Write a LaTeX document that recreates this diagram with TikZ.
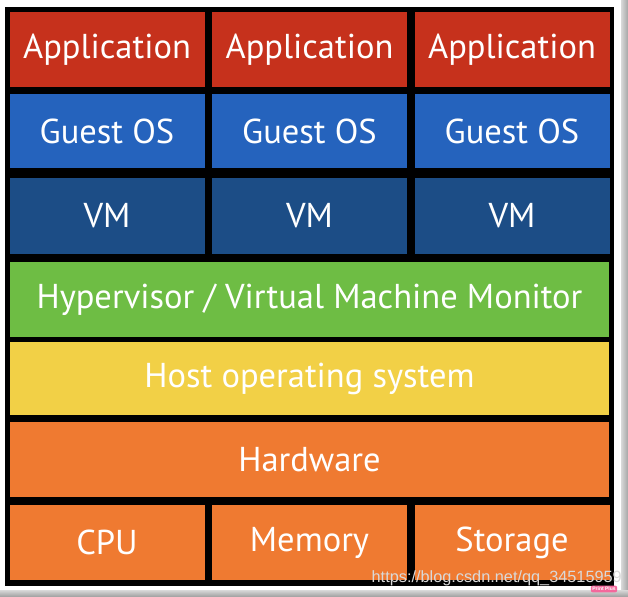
\documentclass[tikz,border=0pt]{standalone}
\usepackage{fontspec}
\setmainfont{PT Sans}
\newfontfamily\wmfont{Liberation Sans}
\begin{document}
\begin{tikzpicture}[x=1pt,y=1pt,
  blk/.style={draw=none,inner sep=0pt,anchor=center,text=white,font=\fontsize{34.5}{34.5}\selectfont},
  colw/.style={minimum width=195pt},
  fullw/.style={minimum width=599pt},
  rowh/.style={minimum height=#1pt}]
\definecolor{appred}{HTML}{C6311C}
\definecolor{osblue}{HTML}{2563BD}
\definecolor{vmblue}{HTML}{1C4D86}
\definecolor{hvgreen}{HTML}{6EBD44}
\definecolor{hostyellow}{HTML}{F2D046}
\definecolor{hworange}{HTML}{EF7A31}
\useasboundingbox (0,0) rectangle (628,596);
\fill[white] (0,0) rectangle (628,596);
% screenshot shadow
\shade[left color=gray!30,right color=gray!70] (621,0) rectangle (628,596);
\shade[top color=gray!30,bottom color=gray!70] (0,0) rectangle (628,6);
% black frame
\fill[black] (5,10) rectangle (614,589);
% row 1
\node[blk,colw,rowh=75,fill=appred] (app1) at (107,546.5) {Application};
\node[blk,colw,rowh=75,fill=appred] (app2) at (309.5,546.5) {Application};
\node[blk,colw,rowh=75,fill=appred] (app3) at (512,546.5) {Application};
% row 2
\node[blk,colw,rowh=74,fill=osblue] (os1) at (107,465) {Guest OS};
\node[blk,colw,rowh=74,fill=osblue] (os2) at (309.5,465) {Guest OS};
\node[blk,colw,rowh=74,fill=osblue] (os3) at (512,465) {Guest OS};
% row 3
\node[blk,colw,rowh=76,fill=vmblue] (vm1) at (107,380) {VM};
\node[blk,colw,rowh=76,fill=vmblue] (vm2) at (309.5,380) {VM};
\node[blk,colw,rowh=76,fill=vmblue] (vm3) at (512,380) {VM};
% full rows
\node[blk,fullw,rowh=75,fill=hvgreen] (hyp) at (309.5,296.5) {Hypervisor / Virtual Machine Monitor};
\node[blk,fullw,rowh=73,fill=hostyellow] (host) at (309.5,217.5) {Host operating system};
\node[blk,fullw,rowh=75,fill=hworange] (hw) at (309.5,136.5) {Hardware};
% bottom row
\node[blk,colw,rowh=75,fill=hworange] (cpu) at (107,53.5) {CPU};
\node[blk,colw,rowh=75,fill=hworange] (mem) at (309.5,53.5) {Memory};
\node[blk,colw,rowh=75,fill=hworange] (sto) at (512,53.5) {Storage};
% watermark
\node[anchor=base east,inner sep=0pt,text=gray!30,font=\wmfont\fontsize{16.3}{16.3}\selectfont] (wm) at (622,13) {https://blog.csdn.net/qq\_34515959};
\node[fill=magenta!70!red!60,rounded corners=2pt,inner sep=1.5pt,text=white,font=\wmfont\bfseries\fontsize{5}{5}\selectfont] (pp) at (604,7) {Print Plus};
\end{tikzpicture}
\end{document}
